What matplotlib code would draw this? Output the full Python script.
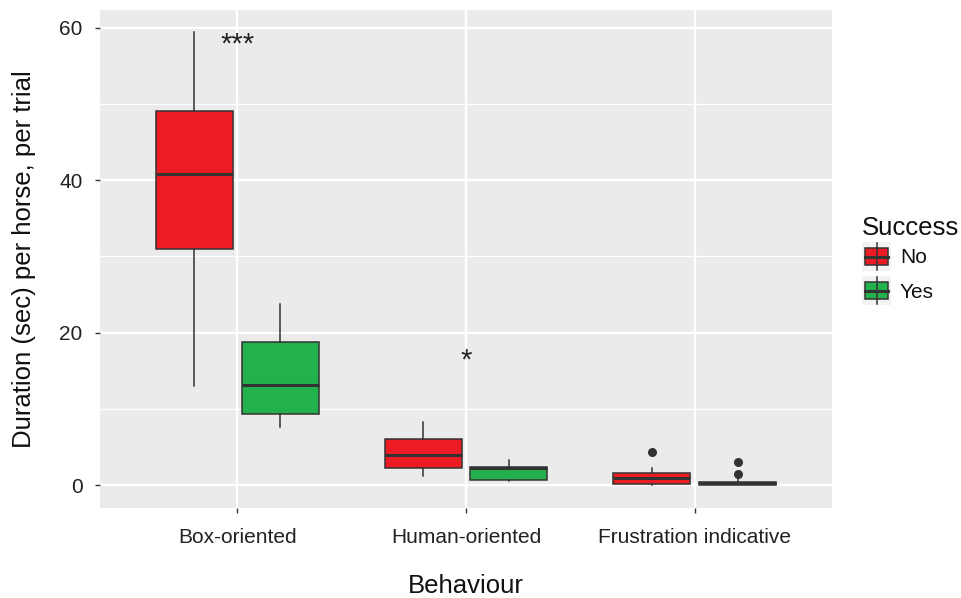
import matplotlib
matplotlib.use("Agg")
import matplotlib.pyplot as plt
from matplotlib.patches import Rectangle
from matplotlib.lines import Line2D

plt.rcParams['font.family'] = ['Liberation Sans', 'DejaVu Sans']

categories = ["Box-oriented", "Human-oriented", "Frustration indicative"]
groups = ["No", "Yes"]
colors = {"No": "#ED1C24", "Yes": "#22B14C"}

# five-number summaries: whislo, q1, med, q3, whishi
stats_no = [
    [13.0, 31.0, 40.8, 49.0, 59.4],
    [1.2, 2.2, 3.9, 6.0, 8.3],
    [0.0, 0.2, 0.9, 1.6, 2.2],
]
stats_yes = [
    [7.6, 9.3, 13.1, 18.8, 23.8],
    [0.5, 0.7, 2.2, 2.4, 3.3],
    [0.0, 0.05, 0.25, 0.45, 0.9],
]
outliers_no = [[], [], [4.3]]
outliers_yes = [[], [], [3.0, 1.4]]

sig_labels = ["***", "*", ""]
sig_y = [57.8, 16.3, 0]

yticks = [0, 20, 40, 60]
yminor = [10, 30, 50]

W, H = 961, 598
fig = plt.figure(figsize=(W / 100, H / 100), dpi=100)
ax = fig.add_axes([100 / W, (H - 508) / H, 732 / W, 498 / H])
ax.set_facecolor("#EBEBEB")
for s in ax.spines.values():
    s.set_visible(False)

ax.set_xlim(0.4, 3.6)
ax.set_ylim(-3.0, 62.3)

for y in yminor:
    ax.axhline(y, color="white", lw=0.9, zorder=0)
for y in yticks:
    ax.axhline(y, color="white", lw=1.6, zorder=0)
for i in range(len(categories)):
    ax.axvline(i + 1, color="white", lw=1.6, zorder=0)

offset = 0.1875
width = 0.3375

def make_stats(vals, fl):
    lo, q1, med, q3, hi = vals
    return dict(whislo=lo, q1=q1, med=med, q3=q3, whishi=hi, fliers=fl)

for gi, (g, st, ol) in enumerate([("No", stats_no, outliers_no), ("Yes", stats_yes, outliers_yes)]):
    pos = [i + 1 + (-offset if gi == 0 else offset) for i in range(len(categories))]
    bstats = [make_stats(v, o) for v, o in zip(st, ol)]
    ax.bxp(bstats, positions=pos, widths=width, patch_artist=True,
           showcaps=False, manage_ticks=False,
           boxprops=dict(facecolor=colors[g], edgecolor="#333333", linewidth=1.1),
           medianprops=dict(color="#333333", linewidth=2.2),
           whiskerprops=dict(color="#333333", linewidth=1.1),
           flierprops=dict(marker="o", markerfacecolor="#333333", markeredgecolor="#333333",
                           markersize=5.5, linestyle="none"),
           zorder=2)

for i, (lab, yv) in enumerate(zip(sig_labels, sig_y)):
    if lab:
        ax.text(i + 1, yv, lab, ha="center", va="center", fontsize=21, color="#222222")

ax.set_xticks(range(1, len(categories) + 1))
ax.set_xticklabels(categories)
ax.set_yticks(yticks)
ax.tick_params(axis="both", length=3.5, width=1, color="#333333", labelsize=15,
               labelcolor="#222222")
ax.tick_params(axis="x", pad=11)
ax.tick_params(axis="y", pad=9)
ax.set_xlabel("Behaviour", fontsize=18.5, color="#111111", labelpad=19)
ax.set_ylabel("Duration (sec) per horse, per trial", fontsize=18.5, color="#111111", labelpad=17)

# legend (manual, ggplot style)
fig.text(862 / W, 1 - 228 / H, "Success", fontsize=18.5, ha="left", va="center", color="#111111")
key_tops = [242, 276]
for g, kt in zip(groups, key_tops):
    kax = fig.add_axes([862 / W, 1 - (kt + 29) / H, 29 / W, 29 / H])
    kax.set_xlim(0, 1)
    kax.set_ylim(0, 1)
    kax.axis("off")
    kax.add_patch(Rectangle((0, 0), 1, 1, facecolor="#F2F2F2", edgecolor="none"))
    kax.add_line(Line2D([0.5, 0.5], [0.05, 0.95], color="#333333", lw=1.1))
    kax.add_patch(Rectangle((0.12, 0.2), 0.76, 0.6, facecolor=colors[g], edgecolor="#333333", lw=1.1))
    kax.add_line(Line2D([0.12, 0.88], [0.5, 0.5], color="#333333", lw=2.2))
    fig.text(900 / W, 1 - (kt + 16) / H, g, fontsize=15, ha="left", va="center", color="#111111")

fig.savefig("out.png", dpi=100, facecolor="white")
